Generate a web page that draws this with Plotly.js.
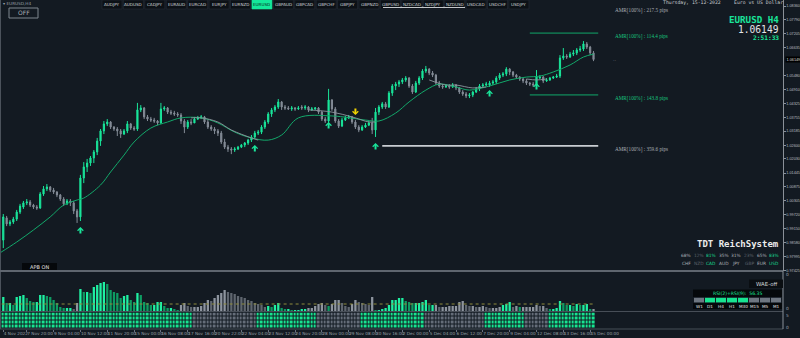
<!DOCTYPE html>
<html>
<head>
<meta charset="utf-8">
<script src="https://cdn.plot.ly/plotly-3.0.1.min.js"></script>
<style>
html,body{margin:0;padding:0;background:#131a22;overflow:hidden;}
#chart{width:800px;height:338px;}
</style>
</head>
<body>
<div id="chart"></div>
<script>
// ================= DATA (EURUSD H4) =================
const openP = [
0.9867,0.9959,0.9934,0.9942,0.9954,0.9983,1.0004,1.0021,1.0025,1.0012,
1.0004,1.0000,1.0058,1.0079,1.0087,1.0074,1.0066,1.0054,1.0037,1.0017,
1.0029,1.0021,0.9988,0.9963,1.0124,1.0170,1.0186,1.0207,1.0232,1.0277,
1.0319,1.0348,1.0356,1.0335,1.0327,1.0319,1.0306,1.0319,1.0348,1.0331,
1.0327,1.0406,1.0414,1.0377,1.0368,1.0364,1.0360,1.0352,1.0410,1.0414,
1.0397,1.0393,1.0389,1.0385,1.0360,1.0335,1.0356,1.0352,1.0368,1.0373,
1.0377,1.0356,1.0335,1.0327,1.0319,1.0310,1.0273,1.0252,1.0244,1.0240,
1.0244,1.0252,1.0261,1.0269,1.0281,1.0294,1.0310,1.0314,1.0335,1.0356,
1.0389,1.0406,1.0418,1.0439,1.0418,1.0414,1.0410,1.0414,1.0410,1.0418,
1.0414,1.0418,1.0406,1.0410,1.0414,1.0397,1.0368,1.0360,1.0447,1.0410,
1.0360,1.0339,1.0364,1.0373,1.0377,1.0356,1.0335,1.0323,1.0335,1.0343,
1.0352,1.0323,1.0397,1.0418,1.0431,1.0418,1.0476,1.0505,1.0513,1.0522,
1.0530,1.0538,1.0505,1.0480,1.0517,1.0538,1.0567,1.0575,1.0559,1.0550,
1.0517,1.0505,1.0501,1.0505,1.0501,1.0509,1.0497,1.0480,1.0472,1.0464,
1.0468,1.0480,1.0493,1.0505,1.0509,1.0509,1.0517,1.0522,1.0538,1.0550,
1.0555,1.0575,1.0563,1.0550,1.0542,1.0534,1.0526,1.0517,1.0513,1.0509,
1.0538,1.0542,1.0526,1.0530,1.0538,1.0542,1.0546,1.0621,1.0629,1.0625,
1.0637,1.0642,1.0654,1.0658,1.0679,1.0666,1.0642];
const highP = [
0.9975,0.9967,0.9950,0.9963,0.9992,1.0017,1.0029,1.0037,1.0033,1.0017,
1.0012,1.0066,1.0091,1.0099,1.0091,1.0083,1.0070,1.0058,1.0045,1.0037,
1.0037,1.0029,0.9996,1.0137,1.0190,1.0203,1.0215,1.0240,1.0290,1.0327,
1.0360,1.0368,1.0360,1.0339,1.0335,1.0327,1.0327,1.0360,1.0352,1.0339,
1.0435,1.0426,1.0418,1.0385,1.0377,1.0373,1.0364,1.0435,1.0422,1.0418,
1.0406,1.0402,1.0397,1.0393,1.0368,1.0364,1.0368,1.0377,1.0381,1.0385,
1.0381,1.0364,1.0343,1.0335,1.0327,1.0319,1.0286,1.0261,1.0252,1.0252,
1.0257,1.0265,1.0273,1.0286,1.0302,1.0319,1.0323,1.0343,1.0364,1.0397,
1.0414,1.0426,1.0451,1.0443,1.0426,1.0422,1.0422,1.0418,1.0422,1.0426,
1.0426,1.0422,1.0418,1.0418,1.0418,1.0402,1.0377,1.0493,1.0451,1.0418,
1.0368,1.0373,1.0381,1.0385,1.0381,1.0364,1.0343,1.0343,1.0352,1.0360,
1.0373,1.0414,1.0426,1.0439,1.0439,1.0484,1.0513,1.0522,1.0530,1.0538,
1.0546,1.0542,1.0513,1.0526,1.0546,1.0575,1.0588,1.0579,1.0567,1.0555,
1.0526,1.0513,1.0513,1.0513,1.0517,1.0513,1.0501,1.0488,1.0480,1.0476,
1.0484,1.0501,1.0513,1.0517,1.0522,1.0526,1.0530,1.0546,1.0559,1.0563,
1.0583,1.0579,1.0567,1.0555,1.0546,1.0538,1.0534,1.0522,1.0522,1.0571,
1.0550,1.0546,1.0538,1.0542,1.0546,1.0555,1.0633,1.0662,1.0637,1.0646,
1.0654,1.0662,1.0671,1.0691,1.0687,1.0671,1.0650];
const lowP = [
0.9834,0.9925,0.9925,0.9934,0.9946,0.9975,0.9996,1.0012,1.0004,0.9996,
0.9992,0.9996,1.0050,1.0070,1.0066,1.0058,1.0045,1.0029,1.0008,1.0012,
1.0008,0.9975,0.9938,0.9946,1.0103,1.0149,1.0174,1.0186,1.0219,1.0257,
1.0306,1.0339,1.0327,1.0319,1.0298,1.0290,1.0302,1.0310,1.0323,1.0319,
1.0319,1.0397,1.0368,1.0360,1.0356,1.0352,1.0343,1.0348,1.0402,1.0389,
1.0385,1.0381,1.0377,1.0348,1.0310,1.0327,1.0343,1.0352,1.0364,1.0368,
1.0348,1.0327,1.0319,1.0306,1.0298,1.0265,1.0244,1.0232,1.0223,1.0232,
1.0240,1.0248,1.0252,1.0261,1.0273,1.0286,1.0302,1.0306,1.0327,1.0348,
1.0377,1.0397,1.0410,1.0406,1.0406,1.0406,1.0402,1.0402,1.0406,1.0406,
1.0406,1.0397,1.0402,1.0406,1.0389,1.0360,1.0352,1.0352,1.0402,1.0352,
1.0331,1.0335,1.0360,1.0368,1.0348,1.0327,1.0314,1.0319,1.0331,1.0339,
1.0306,1.0294,1.0385,1.0410,1.0410,1.0414,1.0464,1.0488,1.0501,1.0513,
1.0522,1.0497,1.0472,1.0476,1.0509,1.0530,1.0559,1.0550,1.0542,1.0509,
1.0497,1.0493,1.0497,1.0493,1.0497,1.0488,1.0472,1.0464,1.0455,1.0455,
1.0459,1.0476,1.0484,1.0501,1.0505,1.0501,1.0509,1.0513,1.0530,1.0542,
1.0546,1.0550,1.0542,1.0534,1.0526,1.0517,1.0509,1.0505,1.0501,1.0505,
1.0534,1.0517,1.0522,1.0526,1.0534,1.0538,1.0538,1.0613,1.0617,1.0621,
1.0629,1.0633,1.0646,1.0650,1.0658,1.0633,1.0608];
const closeP = [
0.9963,0.9934,0.9942,0.9954,0.9983,1.0008,1.0021,1.0025,1.0012,1.0004,
1.0000,1.0058,1.0079,1.0087,1.0074,1.0066,1.0054,1.0037,1.0017,1.0029,
1.0021,0.9988,0.9963,1.0124,1.0170,1.0186,1.0207,1.0232,1.0277,1.0319,
1.0348,1.0356,1.0335,1.0327,1.0319,1.0306,1.0319,1.0348,1.0331,1.0327,
1.0406,1.0414,1.0377,1.0368,1.0364,1.0360,1.0352,1.0410,1.0414,1.0397,
1.0393,1.0389,1.0385,1.0360,1.0335,1.0356,1.0352,1.0368,1.0373,1.0377,
1.0356,1.0335,1.0327,1.0319,1.0310,1.0273,1.0252,1.0244,1.0240,1.0244,
1.0252,1.0261,1.0269,1.0281,1.0294,1.0310,1.0314,1.0335,1.0356,1.0389,
1.0406,1.0418,1.0439,1.0418,1.0414,1.0410,1.0414,1.0410,1.0414,1.0414,
1.0418,1.0406,1.0410,1.0414,1.0397,1.0368,1.0360,1.0447,1.0410,1.0360,
1.0339,1.0364,1.0373,1.0377,1.0356,1.0335,1.0323,1.0335,1.0343,1.0352,
1.0323,1.0397,1.0418,1.0431,1.0418,1.0476,1.0505,1.0513,1.0522,1.0530,
1.0538,1.0505,1.0480,1.0517,1.0538,1.0567,1.0575,1.0559,1.0550,1.0517,
1.0505,1.0501,1.0505,1.0501,1.0509,1.0497,1.0480,1.0472,1.0464,1.0468,
1.0480,1.0493,1.0505,1.0509,1.0513,1.0517,1.0522,1.0538,1.0550,1.0555,
1.0575,1.0563,1.0550,1.0542,1.0534,1.0526,1.0517,1.0513,1.0509,1.0542,
1.0542,1.0526,1.0530,1.0538,1.0542,1.0546,1.0621,1.0629,1.0625,1.0637,
1.0642,1.0654,1.0658,1.0679,1.0666,1.0642,1.06149];

// slow EMA (green) – sampled points along the drawn curve
const emaBar = [-1,4,9,14,18,22,24,29,32,36,39,44,49,53,59,64,69,74,79,83,88,98,108,112,117,121,126,130,135,139,145,151,156,160,164,169,173,176];
const emaVal = [0.9814,0.9859,0.9909,0.9963,1.0012,1.0033,1.0041,1.0095,1.0149,1.0219,1.0273,1.0331,1.0356,1.0373,1.0373,1.0352,1.0314,1.0290,1.0281,1.0302,1.0373,1.0381,1.0364,1.0360,1.0393,1.0439,1.0488,1.0513,1.0501,1.0488,1.0505,1.0530,1.0542,1.0546,1.0563,1.0592,1.0625,1.0637];
// gray MA – only drawn during the bearish phases
const maBar = [56,59,64,68,74,76,null,91,98,104,109,111,null,127,132,135,140,144,null,156,159,162];
const maVal = [1.0373,1.0373,1.0356,1.0323,1.0290,1.0281,null,1.0406,1.0397,1.0377,1.0356,1.0356,null,1.0530,1.0509,1.0509,1.0497,1.0501,null,1.0534,1.0530,1.0534];

// lower histogram oscillator
const histValue = [
14,8,8,6,14,15,16,13,10,9,
9,16,16,15,14,11,8,4,3,3,
3,2,8,22,19,19,18,24,26,28,
29,27,21,19,18,13,15,16,11,9,
18,16,9,8,6,6,9,9,5,3,
3,2,1,6,8,5,4,4,4,5,
8,11,10,13,16,18,21,19,18,17,
15,14,13,11,10,8,7,6,4,5,
4,6,8,3,2,2,1,1,1,2,
2,3,3,5,7,8,6,5,7,11,
11,8,5,4,7,11,9,8,7,6,
14,1,1,2,3,6,11,11,13,13,
10,9,8,8,8,9,11,6,6,6,
4,4,4,5,5,5,9,10,6,5,
5,4,4,5,4,3,3,3,4,6,
7,9,4,5,4,4,4,4,4,6,
5,5,3,2,2,3,10,8,6,6,
5,7,6,6,7,2,2];
const signalLevel = 7;
const histTrendRuns = [['G',21],['R',2],['G',30],['R',26],['G',12],['R',6],['G',1],['R',13],['G',18],['R',20],['G',3],['R',2],['G',1],['R',8],['G',13],['R',1]];
const gridTrendRuns = [['G',57],['R',19],['G',18],['R',13],['G',19],['R',18],['G',12],['R',7],['G',14]];

const dateTickBar = [0,7,15,23,31,39,47,55,63,71,79,87,95,103,111,119,127,135,143,151,159,167,175];
const dateTickText = ['4 Nov 2022','7 Nov 20:00','9 Nov 04:00','10 Nov 12:00','11 Nov 20:00','15 Nov 00:00','16 Nov 08:00','17 Nov 16:00','20 Nov 22:00','22 Nov 04:00','23 Nov 12:00','24 Nov 20:00','28 Nov 00:00','29 Nov 08:00','30 Nov 16:00','2 Dec 00:00','5 Dec 04:00','6 Dec 12:00','7 Dec 20:00','9 Dec 04:00','12 Dec 08:00','13 Dec 16:00','15 Dec 00:00'];
const priceTicks = [1.0836,1.0779,1.07205,1.06635,1.0548,1.0491,1.04325,1.03755,1.03185,1.026,1.0203,1.01445,1.00875,1.00305,0.9972,0.9915,0.9858,0.97995,0.97425];

const levelPrice = [1.0832,1.0724,1.0468,1.0257];
const levelStart = [113,157,157,113];
const levelEnd = [137.7,177.4,177.4,177.4];
const levelText = ['AMR[100%] : 217.5 pips','AMR[100%] : 114.4 pips','AMR[100%] : 143.8 pips','AMR[100%] : 359.6 pips'];

const upArrowBar = [23,75,97,111,145,159];
const upArrowPrice = [0.9921,1.0261,1.0356,1.0269,1.0488,1.0517];
const downArrowBar = [105];
const downArrowPrice = [1.0385];

const pairs = ['AUDJPY','AUDUSD','CADJPY','EURAUD','EURCAD','EURJPY','EURNZD','EURUSD','GBPAUD','GBPCAD','GBPCHF','GBPJPY','GBPNZD','GBPUSD','NZDCAD','NZDJPY','NZDUSD','USDCAD','USDCHF','USDJPY'];
const currencies = ['CHF','NZD','CAD','AUD','JPY','GBP','EUR','USD'];
const strength = [68,12,81,35,31,23,65,83];
const tfLabels = ['W1','D1','H4','H1','M30','M15','M5','M1'];
const tfUp = [0,1,1,1,1,0,0,0];
const lastPrice = 1.06149;
const rsiValue = 56.35;

// ================= BUILD =================
const GREEN = '#19e59a', GRAY = '#848c97', BG = '#131a22';
const bars = closeP.map((_, i) => i);
const expand = runs => runs.flatMap(([c, n]) => Array(n).fill(c));
const histTrend = expand(histTrendRuns);
const gridTrend = expand(gridTrendRuns);
const histColors = histValue.map((v, i) => {
  const rising = i === 0 || v >= histValue[i - 1];
  if (histTrend[i] === 'G') return rising ? '#1ff0a2' : '#0e9c63';
  return rising ? '#8d949e' : '#5f666f';
});
const gridRow = gridTrend.map(c => c === 'G' ? 1 : 0);

const PX = x => x / 800, PY = y => 1 - y / 338;

const traces = [
  {type:'scatter', mode:'lines', x:emaBar, y:emaVal, xaxis:'x', yaxis:'y',
   line:{color:'#12a86a', width:1, shape:'spline', smoothing:1}, hoverinfo:'skip'},
  {type:'scatter', mode:'lines', x:maBar, y:maVal, xaxis:'x', yaxis:'y', connectgaps:false,
   line:{color:'#8e959e', width:0.9, shape:'spline', smoothing:1}, hoverinfo:'skip'},
  {type:'candlestick', x:bars, open:openP, high:highP, low:lowP, close:closeP, xaxis:'x', yaxis:'y',
   increasing:{line:{color:GREEN, width:1}, fillcolor:GREEN},
   decreasing:{line:{color:GRAY, width:1}, fillcolor:GRAY},
   whiskerwidth:0, hoverinfo:'skip'},
  {type:'bar', x:bars, y:histValue, xaxis:'x', yaxis:'y2', width:0.68,
   marker:{color:histColors, line:{width:0}}, hoverinfo:'skip'},
  {type:'heatmap', x:bars, y:[0,1,2,3], z:[gridRow,gridRow,gridRow,gridRow], xaxis:'x', yaxis:'y3',
   xgap:1, ygap:1, zmin:0, zmax:1, showscale:false,
   colorscale:[[0,'#656d79'],[1,'#17e490']], hoverinfo:'skip'}
];

const shapes = [];
const annotations = [];
const rectP = (x0,y0,x1,y1,fill,line,lw) => shapes.push({type:'rect', xref:'paper', yref:'paper',
  x0:PX(x0), x1:PX(x1), y0:PY(y1), y1:PY(y0), fillcolor:fill, line:{color:line||fill, width:lw===undefined?0:lw}, layer:'above'});
const lineP = (x0,y0,x1,y1,color,w) => shapes.push({type:'line', xref:'paper', yref:'paper',
  x0:PX(x0), x1:PX(x1), y0:PY(y0), y1:PY(y1), line:{color, width:w}, layer:'above'});
const txt = (x,y,t,size,color,opts) => annotations.push(Object.assign({xref:'paper', yref:'paper',
  x:PX(x), y:PY(y), text:t, showarrow:false, xanchor:'left', yanchor:'middle',
  font:{size, color, family:'DejaVu Sans'}, borderpad:0}, opts||{}));

// panel frames
lineP(0.5,0,0.5,329,'#4b525b',1);
lineP(0,271,783,271,'#5f666f',2);
lineP(0,311.5,783,311.5,'#474e57',1);
lineP(0,329,783,329,'#474e57',1);
lineP(783,271,783,329,'#8a9098',1);

// AMR level lines
const levelColor = ['#c2c6cb','#10a86a','#10a86a','#c9cdd2'];
const levelWidth = [1,1,1,1.6];
levelPrice.forEach((p,i) => {
  shapes.push({type:'line', xref:'x', yref:'y', x0:levelStart[i], x1:levelEnd[i], y0:p, y1:p,
    line:{color:levelColor[i], width:levelWidth[i]}, layer:'above'});
  annotations.push({xref:'paper', yref:'y', x:PX(613), y:p, yshift:-3.5, text:levelText[i], showarrow:false,
    xanchor:'left', yanchor:'middle', font:{family:'Liberation Serif', size:5.2, color: i===1||i===2 ? '#17c47f' : '#a9aeb4'}});
});
// signal dotted line in histogram
shapes.push({type:'line', xref:'x', yref:'y2', x0:-0.5, x1:bars.length-0.5, y0:signalLevel, y1:signalLevel,
  line:{color:'#8f8b3c', width:1, dash:'dot'}, layer:'above'});

// arrows (open chevron heads with a short stem)
upArrowBar.forEach((b,i) => annotations.push({xref:'x', yref:'y', x:b, y:upArrowPrice[i], text:'', showarrow:true,
  arrowhead:4, arrowsize:0.55, arrowwidth:2, arrowcolor:GREEN, ax:0, ay:8}));
downArrowBar.forEach((b,i) => annotations.push({xref:'x', yref:'y', x:b, y:downArrowPrice[i], text:'', showarrow:true,
  arrowhead:4, arrowsize:0.55, arrowwidth:2, arrowcolor:'#f2d400', ax:0, ay:-8}));

// top button bar
pairs.forEach((p,k) => {
  const x0 = 102 + 21.42*k, sel = p === 'EURUSD';
  rectP(x0, 0, x0+20, 9, sel ? '#14e89a' : '#0c1116', sel ? '#14e89a' : '#262e38', 0.6);
  txt(x0+10, 4.6, p, 4.1, sel ? '#06261a' : '#d5d9dd', {xanchor:'center', font:{size:4.1, color: sel ? '#06261a' : '#d5d9dd', family:'DejaVu Sans'}});
});
lineP(383,7.5,465,7.5,'#c4c8cc',1);

// top-left
txt(2,3.5,'▾ EURUSD,H4',4.2,'#9aa0a7');
rectP(9,8,38,18,BG,'#7f868e',1);
txt(23.5,13,'OFF',6,'#a9afb6',{xanchor:'center'});

// top-right info
txt(662,2.8,'Thursday, 15-12-2022',4.8,'#c8ccd0',{font:{size:4.8,color:'#c8ccd0',family:'DejaVu Sans Mono'}});
txt(733,2.8,'Euro vs US Dollar',4.8,'#c8ccd0',{font:{size:4.8,color:'#c8ccd0',family:'DejaVu Sans Mono'}});
txt(780,20,'<b>EURUSD H4</b>',9.2,GREEN,{xanchor:'right',font:{size:9.2,color:GREEN,family:'DejaVu Sans Mono'}});
txt(780,29.5,lastPrice.toFixed(5),9.6,'#e4e6e8',{xanchor:'right',font:{size:9.6,color:'#e4e6e8',family:'DejaVu Sans Mono'}});
txt(780,37,'<b>2:51:33</b>',6.2,GREEN,{xanchor:'right',font:{size:6.2,color:GREEN,family:'DejaVu Sans Mono'}});
txt(612,60,'··',5,'#777d84');

// current price tag on the axis
annotations.push({xref:'paper', yref:'y', x:PX(784.5), y:lastPrice, text:lastPrice.toFixed(5), showarrow:false,
  xanchor:'left', yanchor:'middle', bgcolor:'#000000', borderpad:0.5, font:{size:3.8, color:'#d9dcdf', family:'Liberation Sans'}});

// TDT panel
txt(780,244,'<b>TDT ReichSystem</b>',9,'#ececec',{xanchor:'right',font:{size:9,color:'#ececec',family:'DejaVu Sans Mono'}});
currencies.forEach((c,k) => {
  const s = strength[k];
  const col = s >= 80 ? '#17d98f' : (s < 30 ? '#5c636b' : '#aab0b6');
  const cx = 686 + 12.6*k;
  txt(cx,255,s+'%',4.4,col,{xanchor:'center'});
  txt(cx,263.5,c,4.4,col,{xanchor:'center'});
});

// APB ON
rectP(22,263,57,270,'#05080b');
txt(39.5,266.6,'APB ON',5,'#e3e3e3',{xanchor:'center'});

// sub-panel widgets
rectP(749,279.5,783,288,'#0a0e12');
txt(766,283.8,'WAE-off',5.4,'#d4d7da',{xanchor:'center'});
rectP(693,289.5,782,297,'#05080b');
txt(737.5,293.3,'RSI(2)+RSI(9):  '+rsiValue.toFixed(2),4.6,'#18e596',{xanchor:'center'});
rectP(693,303,782,309,'#05080b');
tfLabels.forEach((t,k) => {
  const x0 = 694 + 11*k;
  rectP(x0,297.8,x0+10,302.4, tfUp[k] ? '#17e490' : '#6e7681');
  txt(x0+5,306,t,4.2,'#e6e6e6',{xanchor:'center'});
});
txt(785,274.5,'0',4.3,'#a0a6ad');
txt(785,308,'0',4.3,'#a0a6ad');
txt(785,315,'5',4.3,'#a0a6ad');
txt(785,327,'0',4.3,'#a0a6ad');

const layout = {
  width:800, height:338, margin:{l:0,r:0,t:0,b:0},
  paper_bgcolor:BG, plot_bgcolor:BG, showlegend:false,
  boxgap:0.5, bargap:0.3, hovermode:false,
  font:{family:'DejaVu Sans', color:'#b5bac0'},
  xaxis:{domain:[0,783/800], range:[-0.98,232.5], anchor:'y3', showgrid:false, zeroline:false, showline:false,
    tickmode:'array', tickvals:dateTickBar, ticktext:dateTickText, ticks:'outside', ticklen:2, tickcolor:'#6b7280',
    tickangle:0, tickfont:{size:4.2, color:'#9aa1a9', family:'DejaVu Sans'}, ticklabelposition:'outside right',
    rangeslider:{visible:false}, fixedrange:true},
  yaxis:{domain:[PY(271),1], range:[0.97391,1.0861], side:'right', anchor:'x', showgrid:false, zeroline:false,
    showline:true, linecolor:'#8a9098', linewidth:1, ticks:'outside', ticklen:1.5, tickcolor:'#8a9098',
    tickmode:'array', tickvals:priceTicks, tickformat:'.5f',
    tickfont:{size:3.8, color:'#b5bac0', family:'Liberation Sans'}, fixedrange:true},
  yaxis2:{domain:[PY(311),PY(273)], range:[0,38], anchor:'x', showgrid:false, zeroline:false, showticklabels:false, fixedrange:true},
  yaxis3:{domain:[PY(328.5),PY(312.5)], range:[-0.5,3.5], anchor:'x', showgrid:false, zeroline:false, showticklabels:false, fixedrange:true},
  shapes, annotations
};

Plotly.newPlot('chart', traces, layout, {displayModeBar:false, staticPlot:true});
</script>
</body>
</html>
